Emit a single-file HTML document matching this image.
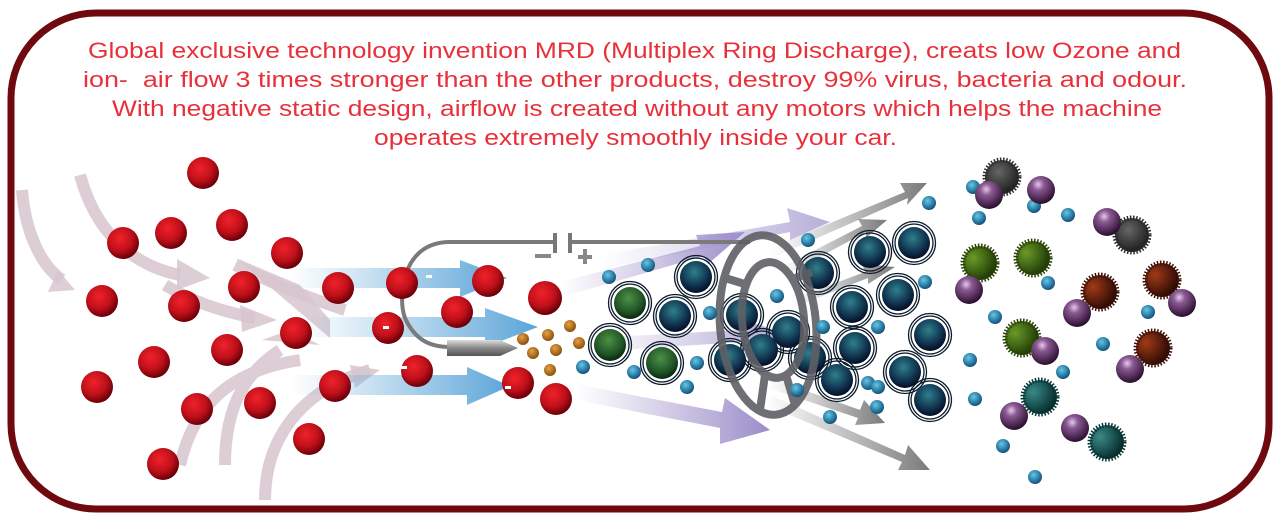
<!DOCTYPE html>
<html><head><meta charset="utf-8"><style>
html,body{margin:0;padding:0;background:#fff;width:1281px;height:522px;overflow:hidden}
svg{display:block}
</style></head><body>
<svg width="1281" height="522" viewBox="0 0 1281 522" xmlns="http://www.w3.org/2000/svg">
<defs>
<radialGradient id="red" cx="0.4" cy="0.35" r="0.65"><stop offset="0" stop-color="#f0222a"/><stop offset="0.6" stop-color="#c0101a"/><stop offset="1" stop-color="#6a0008"/></radialGradient>
<radialGradient id="dk" cx="0.45" cy="0.35" r="0.65"><stop offset="0" stop-color="#2f7f8c"/><stop offset="0.6" stop-color="#123a55"/><stop offset="1" stop-color="#050d25"/></radialGradient>
<radialGradient id="gr" cx="0.45" cy="0.35" r="0.65"><stop offset="0" stop-color="#4d9045"/><stop offset="0.7" stop-color="#1f5226"/><stop offset="1" stop-color="#0a2612"/></radialGradient>
<radialGradient id="tl" cx="0.4" cy="0.35" r="0.65"><stop offset="0" stop-color="#6ec3df"/><stop offset="0.6" stop-color="#2a83ad"/><stop offset="1" stop-color="#1a4f77"/></radialGradient>
<radialGradient id="or" cx="0.4" cy="0.35" r="0.65"><stop offset="0" stop-color="#e8a040"/><stop offset="1" stop-color="#8a5010"/></radialGradient>
<radialGradient id="pu" cx="0.4" cy="0.3" r="0.7"><stop offset="0" stop-color="#e6c8ec"/><stop offset="0.3" stop-color="#8a5a92"/><stop offset="1" stop-color="#2a0e2e"/></radialGradient>
<radialGradient id="gg" cx="0.4" cy="0.35" r="0.65"><stop offset="0" stop-color="#666"/><stop offset="1" stop-color="#1e1e1e"/></radialGradient>
<radialGradient id="gn" cx="0.3" cy="0.35" r="0.7"><stop offset="0" stop-color="#6a9a28"/><stop offset="1" stop-color="#1f3a05"/></radialGradient>
<radialGradient id="br" cx="0.3" cy="0.35" r="0.7"><stop offset="0" stop-color="#a03a18"/><stop offset="1" stop-color="#2c0a04"/></radialGradient>
<radialGradient id="tg" cx="0.3" cy="0.35" r="0.7"><stop offset="0" stop-color="#3a8a88"/><stop offset="1" stop-color="#052c2c"/></radialGradient>
<linearGradient id="bl" x1="0" x2="1"><stop offset="0" stop-color="#6fb0dc" stop-opacity="0"/><stop offset="1" stop-color="#5aa4d8"/></linearGradient>
<linearGradient id="pl" x1="0" x2="1"><stop offset="0" stop-color="#a89ad0" stop-opacity="0"/><stop offset="1" stop-color="#9a8cc8"/></linearGradient>
<linearGradient id="gl" x1="0" x2="1"><stop offset="0" stop-color="#888" stop-opacity="0"/><stop offset="1" stop-color="#7a7a7a"/></linearGradient>
<linearGradient id="ndl" x1="0" x2="0" y1="0" y2="1"><stop offset="0" stop-color="#ddd"/><stop offset="0.5" stop-color="#888"/><stop offset="1" stop-color="#555"/></linearGradient>
</defs>

<rect x="11" y="13" width="1258" height="496" rx="85" fill="#fff" stroke="#6e0a0f" stroke-width="7"/>

<g font-family="Liberation Sans, sans-serif" font-size="22.5" fill="#e8303a" lengthAdjust="spacingAndGlyphs">
<text x="88" y="58" textLength="1093" lengthAdjust="spacingAndGlyphs">Global exclusive technology invention MRD (Multiplex Ring Discharge), creats low Ozone and</text>
<text x="83" y="87" textLength="1104" lengthAdjust="spacingAndGlyphs" xml:space="preserve">ion-  air flow 3 times stronger than the other products, destroy 99% virus, bacteria and odour.</text>
<text x="112" y="116" textLength="1050" lengthAdjust="spacingAndGlyphs">With negative static design, airflow is created without any motors which helps the machine</text>
<text x="374" y="145" textLength="523" lengthAdjust="spacingAndGlyphs">operates extremely smoothly inside your car.</text>
</g>

<!-- pink curved arrows -->
<g fill="none" stroke="#d8c6cf" stroke-width="12" opacity="0.85">
<path d="M22,190 C25,230 40,265 62,280"/>
<path d="M80,175 C95,230 130,265 180,275"/>
<path d="M165,285 C190,300 215,310 255,318"/>
<path d="M235,265 C265,280 300,295 345,310"/>
<path d="M180,465 C195,400 235,370 300,360"/>
<path d="M225,465 C225,400 250,370 280,350"/>
<path d="M265,500 C265,440 300,390 370,370"/>
</g>
<g fill="#d8c6cf" opacity="0.85">
<polygon points="48,292 75,290 58,270"/>
<polygon points="177,259 210,278 177,290"/>
<polygon points="240,305 277,320 242,332"/>
<polygon points="236,258 300,285 330,320 330,338"/>
<polygon points="262,340 320,345 290,330"/>
<polygon points="350,365 380,370 355,388"/>
</g>

<!-- blue arrows -->
<g fill="url(#bl)">
<path d="M290,268 H460 V260 L507,278 L460,297 V288 H290Z"/>
<path d="M300,317 H485 V308 L538,327 L485,347 V337 H300Z"/>
<path d="M290,375 H467 V367 L510,386 L467,405 V395 H290Z"/>
</g>

<!-- purple arrows -->
<g fill="url(#pl)">
<path d="M560,282 L700,246 L696,235 L745,232 L708,264 L704,256 L565,296Z"/>
<path d="M590,338 L740,330 L738,318 L790,335 L740,352 L742,342 L590,352Z" opacity="0.8"/>
<path d="M580,385 L722,412 L725,398 L770,430 L720,444 L720,428 L576,400Z"/>
<path d="M600,255 L790,222 L787,208 L830,222 L790,240 L790,232 L605,268Z" opacity="0.7"/>
</g>

<!-- gray arrows -->
<g fill="url(#gl)">
<path d="M770,248 L905,192 L900,183 L927,183 L907,205 L908,198 L772,258Z"/>
<path d="M780,268 L862,226 L858,219 L887,220 L866,238 L866,232 L784,276Z"/>
<path d="M790,300 L865,272 L862,264 L895,267 L868,284 L868,278 L792,308Z"/>
<path d="M770,378 L860,410 L864,400 L885,423 L855,425 L858,418 L768,388Z"/>
<path d="M770,395 L905,455 L908,445 L930,470 L898,470 L902,462 L766,405Z"/>
</g>

<!-- electrode -->
<g fill="none" stroke="#7a7a7a" stroke-width="4">
<path d="M555,242 H450 C400,242 398,300 405,318 C415,340 430,347 450,347"/>
<path d="M570,242 H750"/>
</g>
<rect x="553" y="233" width="4" height="20" fill="#777"/>
<rect x="568" y="233" width="4" height="20" fill="#777"/>
<rect x="535" y="254" width="16" height="4" fill="#888"/>
<rect x="578" y="255" width="14" height="4" fill="#888"/><rect x="583" y="249" width="4" height="15" fill="#888"/>
<path d="M447,340 H500 L518,348 L500,356 H447Z" fill="url(#ndl)"/>

<!-- red balls -->
<g fill="url(#red)">
<circle cx="203" cy="173" r="16"/><circle cx="123" cy="243" r="16"/><circle cx="171" cy="233" r="16"/><circle cx="232" cy="225" r="16"/><circle cx="287" cy="253" r="16"/><circle cx="102" cy="301" r="16"/><circle cx="184" cy="306" r="16"/><circle cx="244" cy="287" r="16"/><circle cx="338" cy="288" r="16"/><circle cx="296" cy="333" r="16"/><circle cx="227" cy="350" r="16"/><circle cx="154" cy="362" r="16"/><circle cx="97" cy="387" r="16"/><circle cx="197" cy="409" r="16"/><circle cx="260" cy="403" r="16"/><circle cx="163" cy="464" r="16"/><circle cx="309" cy="439" r="16"/><circle cx="335" cy="386" r="16"/><circle cx="388" cy="328" r="16"/><circle cx="402" cy="283" r="16"/><circle cx="457" cy="312" r="16"/><circle cx="488" cy="281" r="16"/><circle cx="417" cy="371" r="16"/><circle cx="545" cy="298" r="17"/><circle cx="518" cy="383" r="16"/><circle cx="556" cy="399" r="16"/>
</g>
<g fill="#fff"><rect x="426" y="275" width="6" height="3"/><rect x="383" y="326" width="6" height="3"/><rect x="401" y="366" width="6" height="3"/><rect x="505" y="386" width="6" height="3"/></g>

<!-- orange -->
<g fill="url(#or)">
<circle cx="523" cy="339" r="6"/><circle cx="548" cy="335" r="6"/><circle cx="570" cy="326" r="6"/><circle cx="533" cy="353" r="6"/><circle cx="556" cy="350" r="6"/><circle cx="579" cy="343" r="6"/><circle cx="550" cy="370" r="6"/>
</g>

<!-- ringed balls -->
<g fill="none" stroke="#0a1a2a" stroke-width="1.3">
<circle cx="630" cy="303" r="19"/><circle cx="630" cy="303" r="21.5"/>
<circle cx="610" cy="345" r="19"/><circle cx="610" cy="345" r="21.5"/>
<circle cx="662" cy="363" r="19"/><circle cx="662" cy="363" r="21.5"/>
</g>
<g fill="url(#gr)"><circle cx="630" cy="303" r="16"/><circle cx="610" cy="345" r="16"/><circle cx="662" cy="363" r="16"/></g>
<g fill="none" stroke="#0a1a2a" stroke-width="1.3">
<circle cx="696" cy="277" r="19"/><circle cx="696" cy="277" r="21.5"/>
<circle cx="675" cy="316" r="19"/><circle cx="675" cy="316" r="21.5"/>
<circle cx="742" cy="315" r="19"/><circle cx="742" cy="315" r="21.5"/>
<circle cx="730" cy="360" r="19"/><circle cx="730" cy="360" r="21.5"/>
<circle cx="762" cy="350" r="19"/><circle cx="762" cy="350" r="21.5"/>
<circle cx="788" cy="332" r="19"/><circle cx="788" cy="332" r="21.5"/>
<circle cx="818" cy="273" r="19"/><circle cx="818" cy="273" r="21.5"/>
<circle cx="810" cy="358" r="19"/><circle cx="810" cy="358" r="21.5"/>
<circle cx="870" cy="252" r="19"/><circle cx="870" cy="252" r="21.5"/>
<circle cx="914" cy="243" r="19"/><circle cx="914" cy="243" r="21.5"/>
<circle cx="852" cy="307" r="19"/><circle cx="852" cy="307" r="21.5"/>
<circle cx="898" cy="295" r="19"/><circle cx="898" cy="295" r="21.5"/>
<circle cx="855" cy="348" r="19"/><circle cx="855" cy="348" r="21.5"/>
<circle cx="930" cy="335" r="19"/><circle cx="930" cy="335" r="21.5"/>
<circle cx="837" cy="380" r="19"/><circle cx="837" cy="380" r="21.5"/>
<circle cx="905" cy="372" r="19"/><circle cx="905" cy="372" r="21.5"/>
<circle cx="930" cy="400" r="19"/><circle cx="930" cy="400" r="21.5"/>
</g>
<g fill="url(#dk)">
<circle cx="696" cy="277" r="16"/><circle cx="675" cy="316" r="16"/><circle cx="742" cy="315" r="16"/><circle cx="730" cy="360" r="16"/><circle cx="762" cy="350" r="16"/><circle cx="788" cy="332" r="16"/><circle cx="818" cy="273" r="16"/><circle cx="810" cy="358" r="16"/><circle cx="870" cy="252" r="16"/><circle cx="914" cy="243" r="16"/><circle cx="852" cy="307" r="16"/><circle cx="898" cy="295" r="16"/><circle cx="855" cy="348" r="16"/><circle cx="930" cy="335" r="16"/><circle cx="837" cy="380" r="16"/><circle cx="905" cy="372" r="16"/><circle cx="930" cy="400" r="16"/>
</g>

<!-- ring electrode -->
<g fill="none" stroke="#5e6066" stroke-width="8" opacity="0.9">
<ellipse cx="768" cy="325" rx="48" ry="90" transform="rotate(-5 768 325)"/>
<ellipse cx="773" cy="320" rx="31" ry="58" transform="rotate(-5 773 320)"/>
<path d="M748,285 L725,278 M790,280 L812,272 M765,375 L760,410 M785,372 L795,405"/>
</g>

<!-- small teal -->
<g fill="url(#tl)">
<circle cx="609" cy="277" r="7"/><circle cx="648" cy="265" r="7"/><circle cx="710" cy="313" r="7"/><circle cx="583" cy="367" r="7"/><circle cx="634" cy="372" r="7"/><circle cx="697" cy="363" r="7"/><circle cx="687" cy="387" r="7"/><circle cx="777" cy="296" r="7"/><circle cx="808" cy="240" r="7"/><circle cx="823" cy="327" r="7"/><circle cx="797" cy="390" r="7"/><circle cx="830" cy="417" r="7"/><circle cx="929" cy="203" r="7"/><circle cx="925" cy="282" r="7"/><circle cx="878" cy="327" r="7"/><circle cx="868" cy="383" r="7"/><circle cx="878" cy="387" r="7"/><circle cx="877" cy="407" r="7"/>
<circle cx="973" cy="187" r="7"/><circle cx="979" cy="218" r="7"/><circle cx="1034" cy="206" r="7"/><circle cx="1068" cy="215" r="7"/><circle cx="1048" cy="283" r="7"/><circle cx="995" cy="317" r="7"/><circle cx="1148" cy="312" r="7"/><circle cx="1103" cy="344" r="7"/><circle cx="970" cy="360" r="7"/><circle cx="1063" cy="372" r="7"/><circle cx="975" cy="399" r="7"/><circle cx="1003" cy="446" r="7"/><circle cx="1035" cy="477" r="7"/>
</g>

<!-- germs -->
<g stroke-width="5" stroke-dasharray="1.4 1.6">
<g fill="url(#gg)" stroke="#2a2a2a"><circle cx="1002" cy="177" r="17"/><circle cx="1132" cy="235" r="17"/></g>
<g fill="url(#gn)" stroke="#2a4008"><circle cx="980" cy="263" r="17"/><circle cx="1033" cy="258" r="17"/><circle cx="1022" cy="338" r="17"/></g>
<g fill="url(#br)" stroke="#3a1006"><circle cx="1100" cy="292" r="17"/><circle cx="1162" cy="280" r="17"/><circle cx="1153" cy="348" r="17"/></g>
<g fill="url(#tg)" stroke="#063434"><circle cx="1040" cy="397" r="17"/><circle cx="1107" cy="442" r="17"/></g>
</g>
<g fill="url(#pu)">
<circle cx="989" cy="195" r="14"/><circle cx="1041" cy="190" r="14"/><circle cx="1107" cy="222" r="14"/><circle cx="969" cy="290" r="14"/><circle cx="1077" cy="313" r="14"/><circle cx="1182" cy="303" r="14"/><circle cx="1045" cy="351" r="14"/><circle cx="1130" cy="369" r="14"/><circle cx="1014" cy="416" r="14"/><circle cx="1075" cy="428" r="14"/>
</g>
</svg>
</body></html>
